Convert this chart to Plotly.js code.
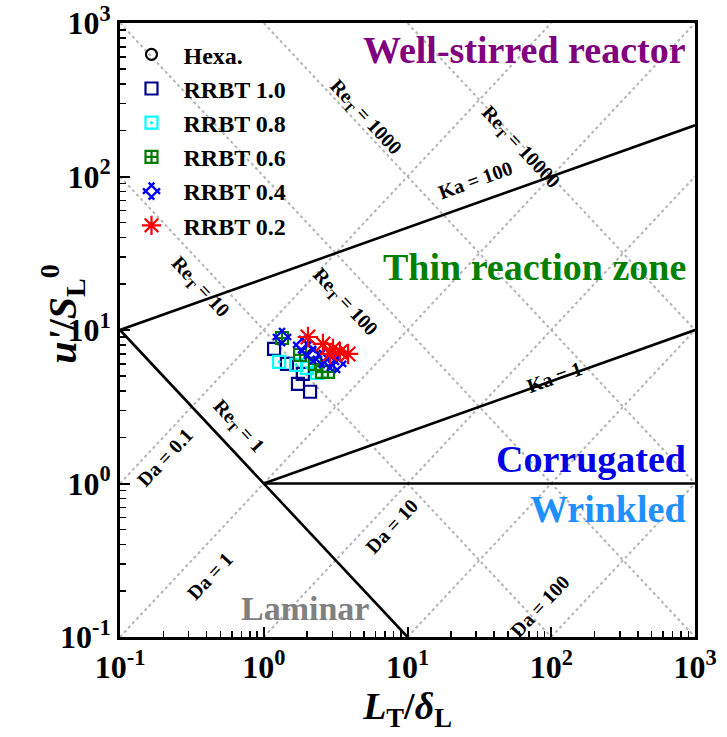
<!DOCTYPE html>
<html><head><meta charset="utf-8">
<script src="https://cdn.plot.ly/plotly-3.0.1.min.js"></script>
<style>body{margin:0;background:#fff}#chart{width:727px;height:737px}</style>
</head><body><div id="chart"></div>
<script>
// regime boundary parameters (Borghi diagram)
const reLines = [10, 100, 1000, 10000];
const daLines = [0.1, 1, 10, 100, 1000];
const kaLines = [1, 100];

// data
const hexaX = [2.2];
const hexaY = [6.9];
const rrbt10X = [1.18, 1.45, 1.87, 1.73, 2.10];
const rrbt10Y = [7.53, 6.01, 5.18, 4.46, 3.96];
const rrbt08X = [1.28, 1.68, 2.00, 2.35];
const rrbt08Y = [6.20, 5.93, 5.67, 5.26];
const rrbt06X = [1.34, 1.79, 2.27, 2.54, 2.80];
const rrbt06Y = [8.87, 6.88, 6.01, 5.34, 5.34];
const rrbt04X = [1.34, 1.85, 2.00, 2.20, 2.54, 2.89, 3.24];
const rrbt04Y = [9.0, 8.0, 7.41, 6.88, 6.48, 6.20, 6.01];
const rrbt02X = [2.03, 2.58, 3.03, 3.39, 3.86, 2.89];
const rrbt02Y = [9.0, 8.11, 7.53, 7.2, 6.98, 6.98];

const tickVals = [0.1, 1, 10, 100, 1000];
const tickText = ['10<sup>-1</sup>', '10<sup>0</sup>', '10<sup>1</sup>', '10<sup>2</sup>', '10<sup>3</sup>'];

const XMIN = 0.1, XMAX = 1000, YMIN = 0.1, YMAX = 1000;
const minorVals = [];
for (let d = -1; d < 3; d++) for (let m = 2; m <= 9; m++) minorVals.push(m * Math.pow(10, d));

const traces = [];
const gray = {color: '#b4b4b4', width: 2, dash: 'dot'};
reLines.forEach(re => {
  const x0 = Math.max(XMIN, re / YMAX), x1 = Math.min(XMAX, re / YMIN);
  traces.push({x: [x0, x1], y: [re / x0, re / x1], mode: 'lines', line: gray, showlegend: false, hoverinfo: 'skip'});
});
daLines.forEach(da => {
  const x0 = Math.max(XMIN, YMIN * da), x1 = Math.min(XMAX, YMAX * da);
  traces.push({x: [x0, x1], y: [x0 / da, x1 / da], mode: 'lines', line: gray, showlegend: false, hoverinfo: 'skip'});
});
const blk = {color: '#000', width: 2.6};
kaLines.forEach(ka => {
  const x0 = Math.pow(ka, -0.5), x1 = XMAX;
  const f = x => Math.pow(ka, 2 / 3) * Math.pow(x, 1 / 3);
  traces.push({x: [x0, x1], y: [f(x0), f(x1)], mode: 'lines', line: blk, showlegend: false, hoverinfo: 'skip'});
});
// Re_T = 1 line
traces.push({x: [XMIN, 1 / YMIN], y: [1 / XMIN, YMIN], mode: 'lines', line: blk, showlegend: false, hoverinfo: 'skip'});
// u'/S_L = 1 line
traces.push({x: [1, XMAX], y: [1, 1], mode: 'lines', line: blk, showlegend: false, hoverinfo: 'skip'});

const SP = '\u00a0\u00a0';
traces.push({name: SP + 'Hexa.', x: hexaX, y: hexaY, mode: 'markers',
  marker: {symbol: 'circle-open', size: 11, color: '#000', line: {width: 2.2}}});
traces.push({name: SP + 'RRBT 1.0', x: rrbt10X, y: rrbt10Y, mode: 'markers',
  marker: {symbol: 'square-open', size: 12, color: '#00008B', line: {width: 2.2}}});
traces.push({name: SP + 'RRBT 0.8', x: rrbt08X, y: rrbt08Y, mode: 'markers',
  marker: {symbol: 'square-open-dot', size: 12, color: '#00FFFF', line: {width: 2.2}}});
traces.push({name: SP + 'RRBT 0.6', x: rrbt06X, y: rrbt06Y, mode: 'markers',
  marker: {symbol: 'square-cross-open', size: 12, color: '#007A00', line: {width: 2.2}}});
traces.push({name: SP + 'RRBT 0.4', x: rrbt04X, y: rrbt04Y, mode: 'markers',
  marker: {symbol: 'hash-open', angle: 45, size: 17, color: '#0000FF', line: {width: 2.4}}});
traces.push({name: SP + 'RRBT 0.2', x: rrbt02X, y: rrbt02Y, mode: 'markers',
  marker: {symbol: 'asterisk-open', size: 17, color: '#FF0000', line: {width: 2.2}}});

const F = 'Liberation Serif';
const lbl = (t, lx, ly, ang) => ({text: t, x: lx, y: ly, xref: 'x', yref: 'y', showarrow: false, textangle: ang,
  font: {family: F, size: 20, color: '#000', weight: 'bold'}});
const RE = 'Re<sub>T</sub> = ';
const reg = (t, ly, col) => ({text: t, x: 0.988, xref: 'paper', xanchor: 'right', y: ly, yref: 'y', showarrow: false,
  font: {family: F, size: 38, color: col, weight: 'bold'}});

const annotations = [
  lbl(RE + '1000', 0.704, 2.383, 47),
  lbl(RE + '10000', 1.783, 2.188, 47),
  lbl(RE + '100', 0.565, 1.182, 47),
  lbl(RE + '10', -0.443, 1.279, 47),
  lbl(RE + '1', -0.179, 0.370, 47),
  lbl('Da = 0.1', -0.687, 0.175, -47),
  lbl('Da = 1', -0.374, -0.604, -47),
  lbl('Da = 10', 0.892, -0.279, -47),
  lbl('Da = 100', 1.922, -0.799, -47),
  lbl('Ka = 100', 1.470, 1.974, -19.6),
  lbl('Ka = 1', 2.026, 0.695, -19.6),
  reg('Well-stirred reactor', 2.825, '#800080'),
  reg('Thin reaction zone', 1.409, '#008000'),
  reg('Corrugated', 0.162, '#0000E6'),
  reg('Wrinkled', -0.169, '#1E90FF'),
  {text: 'Laminar', x: 0.287, y: -0.812, xref: 'x', yref: 'y', showarrow: false,
   font: {family: F, size: 34, color: '#808080', weight: 'bold'}},
  // y-axis title
  {text: "<i>u'</i>/<i>S</i><sub>L</sub><sup>0</sup>", x: -0.153, y: 0.525, xref: 'paper', yref: 'paper',
   showarrow: false, textangle: -90, font: {family: F, size: 40, color: '#000', weight: 'bold'}}
];

const axisCommon = {
  type: 'log', showgrid: false, zeroline: false, showline: true, linewidth: 3, linecolor: '#000', mirror: true,
  ticks: 'inside', ticklen: 10, tickwidth: 2, tickcolor: '#000', tickmode: 'array', tickvals: tickVals, ticktext: tickText,
  ticklabeloverflow: 'allow',
  tickfont: {family: F, size: 32, color: '#000', weight: 'bold'},
  minor: {tickmode: 'array', tickvals: minorVals, ticks: 'inside', ticklen: 6, tickwidth: 1.5, tickcolor: '#000', showgrid: false}
};

const layout = {
  width: 727, height: 737,
  margin: {l: 120, r: 32, t: 23, b: 100},
  paper_bgcolor: '#fff', plot_bgcolor: '#fff',
  xaxis: Object.assign({}, axisCommon, {range: [-1, 3],
    title: {text: '<i>L</i><sub>T</sub>/<i>δ</i><sub>L</sub>', font: {family: F, size: 38, color: '#000', weight: 'bold'}, standoff: 4}}),
  yaxis: Object.assign({}, axisCommon, {range: [-1, 3]}),
  legend: {x: 0.02, y: 0.985, xanchor: 'left', yanchor: 'top', bgcolor: 'rgba(0,0,0,0)',
    font: {family: F, size: 24, color: '#000', weight: 'bold'}, itemwidth: 30},
  annotations: annotations,
  showlegend: true
};

Plotly.newPlot('chart', traces, layout, {displayModeBar: false, staticPlot: true});
</script></body></html>
